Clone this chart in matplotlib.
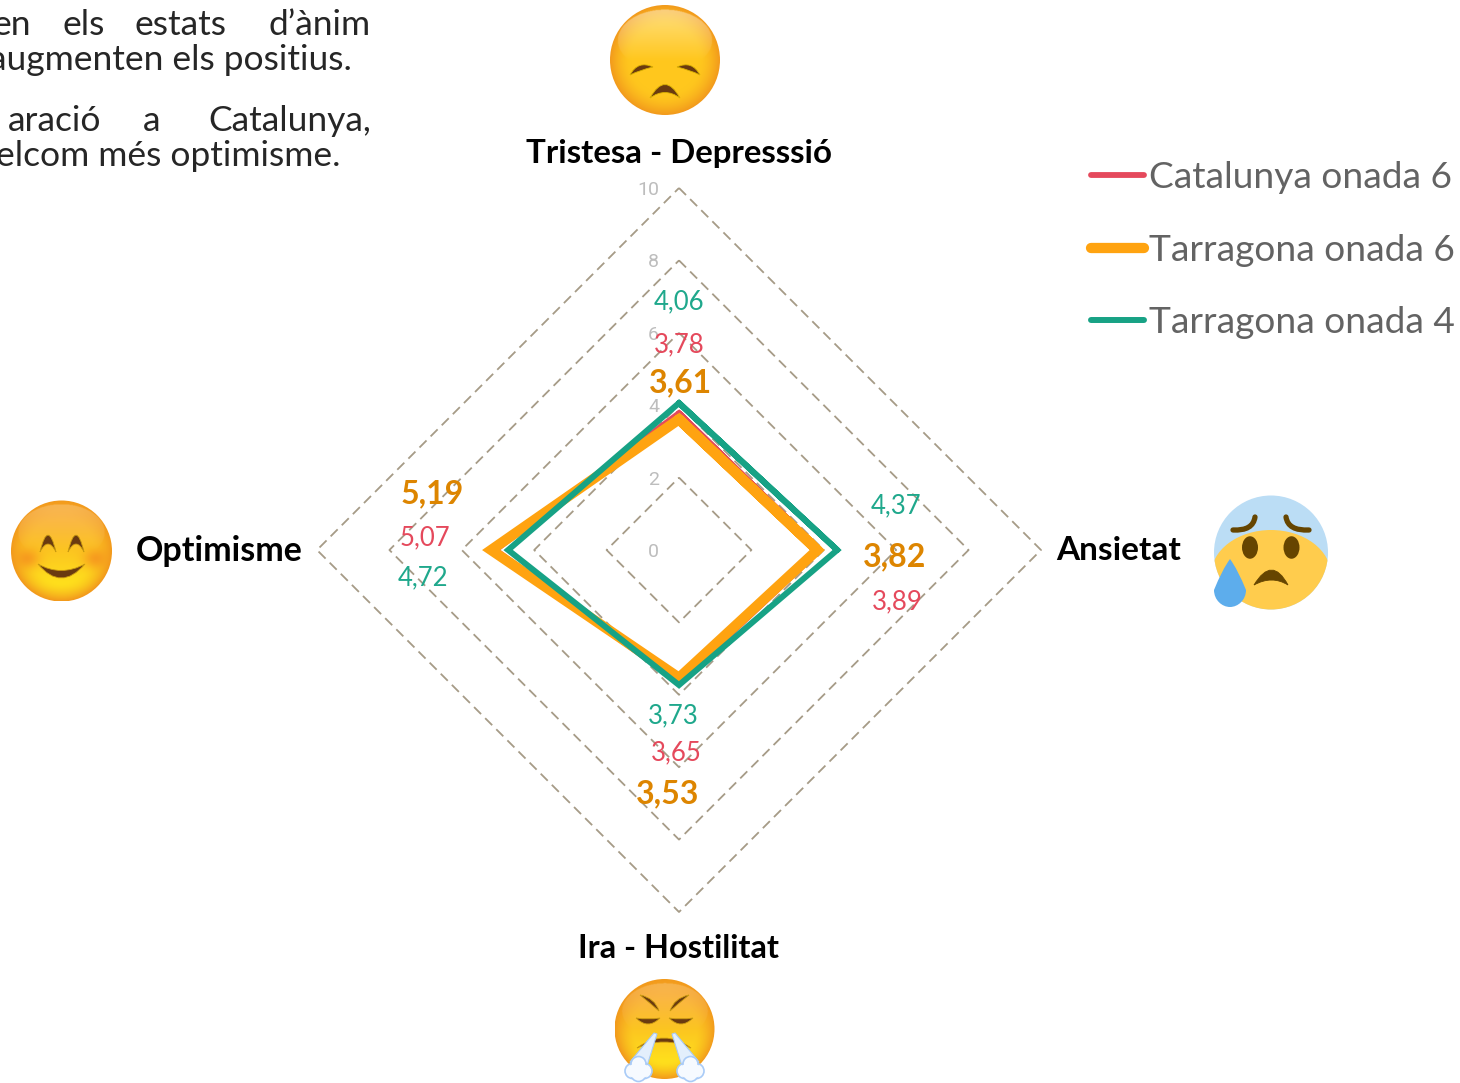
import numpy as np
import matplotlib
matplotlib.use('Agg')
import matplotlib.pyplot as plt
from matplotlib.patches import Circle, Ellipse, PathPatch, Polygon
from matplotlib.path import Path

W, H = 1460, 1083
FONT = 'Lato'

# Data
categories = ['Tristesa - Depresssió', 'Ansietat', 'Ira - Hostilitat', 'Optimisme']
catalunya_6 = [3.78, 3.89, 3.65, 5.07]
tarragona_6 = [3.61, 3.82, 3.53, 5.19]
tarragona_4 = [4.06, 4.37, 3.73, 4.72]
rings = [0, 2, 4, 6, 8, 10]

RED, ORANGE, TEAL = '#E5495C', '#FFA310', '#17A285'
RED_TXT, ORANGE_TXT, TEAL_TXT = '#E5495C', '#DD8500', '#1FA88C'
DASH = '#A69B87'

# Label centres in pixels, one per category
pos_cat = [(679, 345), (897, 602), (676, 753), (425, 538)]
pos_t6 = [(680, 383), (895, 557), (668, 794), (432, 494)]
pos_t4 = [(679, 302), (896, 506), (673, 716), (423, 578)]

fig = plt.figure(figsize=(W / 100, H / 100), dpi=100, facecolor='white')

# Radar, centre (679, 550), 362 px for 10 units
ax = fig.add_axes([(679 - 362) / W, (H - 912) / H, 724 / W, 724 / H], projection='polar')
ax.set_theta_zero_location('N')
ax.set_theta_direction(-1)
ax.set_ylim(0, 10)
ax.axis('off')

angles = np.deg2rad([0, 90, 180, 270])
ring_t = list(angles) + list(angles[:1])
wrap_t = list(angles) + list(angles[:2])

for r in rings:
    ax.plot(ring_t, [r] * 5, color=DASH, lw=1.3, ls=(0, (5.5, 3.2)), clip_on=False)
    ax.annotate(str(r), (0, r), xytext=(-20, -2), textcoords='offset pixels', ha='right',
                va='center', fontsize=14, color='#BDBDBD', family='Roboto', annotation_clip=False)


def radar_line(values, color, lw, label):
    # one segment drawn twice so the first corner gets a mitre as well
    vals = list(values) + list(values[:2])
    line, = ax.plot(wrap_t, vals, color=color, lw=lw, label=label, clip_on=False,
                    solid_joinstyle='miter', solid_capstyle='round')
    return line


h1 = radar_line(catalunya_6, RED, 4.2, 'Catalunya onada 6')
h2 = radar_line(tarragona_6, ORANGE, 7.4, 'Tarragona onada 6')
h3 = radar_line(tarragona_4, TEAL, 4.3, 'Tarragona onada 4')

leg = fig.legend(handles=[h1, h2, h3], loc='upper left', bbox_to_anchor=(1091 / W, 1 - 161 / H),
                 frameon=False, labelspacing=1.07, handlelength=1.44,
                 handletextpad=0.12, borderpad=0, borderaxespad=0,
                 prop={'family': FONT, 'size': 26.7})
for t in leg.get_texts():
    t.set_color('#636363')

# Overlay in image pixels for text and emoji
ov = fig.add_axes([0, 0, 1, 1], facecolor='none')
ov.set_axis_off()


def lab(x, y, s, size, color='black', weight='normal', ha='center'):
    ov.text(x, y, s, fontsize=size, color=color, fontweight=weight, ha=ha, va='center',
            family=FONT, clip_on=True)


def fmt(v):
    return f'{v:.2f}'.replace('.', ',')


for i in range(4):
    lab(*pos_t4[i], fmt(tarragona_4[i]), 18.5, TEAL_TXT)
    lab(*pos_cat[i], fmt(catalunya_6[i]), 18.5, RED_TXT)
    lab(*pos_t6[i], fmt(tarragona_6[i]), 23, ORANGE_TXT, 'bold')

lab(679, 153, categories[0], 23.8, weight='bold')
lab(1119, 551, categories[1], 24, weight='bold')
lab(679, 948, categories[2], 23.4, weight='bold')
lab(219, 551, categories[3], 24.5, weight='bold')

# Cropped paragraph, justified word by word
TXT = '#262626'
lab(31, 25, 'en', 25.5, TXT, ha='right')
lab(105, 25, 'els', 25.5, TXT, ha='right')
lab(227, 25, 'estats', 25.5, TXT, ha='right')
lab(371, 25, 'd’ànim', 25.5, TXT, ha='right')
lab(352, 60, 'augmenten els positius.', 25.5, TXT, ha='right')
lab(101, 121, 'aració', 25.5, TXT, ha='right')
lab(160, 121, 'a', 25.5, TXT, ha='right')
lab(371, 121, 'Catalunya,', 25.5, TXT, ha='right')
lab(340, 156, 'elcom més optimisme.', 25.5, TXT, ha='right')


def rgb(c):
    return np.array(matplotlib.colors.to_rgb(c))


def face(cx, cy, r, centre, edge, top=None, bottom=None, highlight=0.0, cheeks=None):
    n = int(2 * r) * 2
    yy, xx = np.mgrid[-1:1:n * 1j, -1:1:n * 1j]
    d = np.hypot(xx, yy)
    t = np.clip((d - 0.62) / 0.38, 0, 1)[..., None] ** 1.6
    base = np.ones((n, n, 3)) * rgb(centre)
    if top is not None:
        v = np.clip((yy + 0.7) / 1.4, 0, 1)[..., None]
        base = rgb(top) * (1 - v) + rgb(bottom) * v
    img = base * (1 - t) + rgb(edge) * t
    if cheeks is not None:
        for sx in (-0.68, 0.68):
            g = np.exp(-(((xx - sx) / 0.24) ** 2 + ((yy - 0.16) / 0.2) ** 2))[..., None] * 0.75
            img = img * (1 - g) + rgb(cheeks) * g
    if highlight > 0:
        e = ((xx / 0.86) ** 2 + ((yy + 0.36) / 0.56) ** 2) < 1
        g = (np.clip(-yy / 0.9, 0, 1) * e)[..., None] * highlight
        img = img * (1 - g) + g
    im = ov.imshow(img, extent=(cx - r, cx + r, cy + r, cy - r), origin='upper', aspect='auto',
                   interpolation='bilinear', zorder=3)
    clip = Circle((cx, cy), r, transform=ov.transData)
    im.set_clip_path(clip)


def crescent(p0, c1, p1, c2, color, edge=None, lw=0.6):
    verts = [p0, c1, p1, c2, p0]
    codes = [Path.MOVETO, Path.CURVE3, Path.CURVE3, Path.CURVE3, Path.CURVE3]
    ov.add_patch(PathPatch(Path(verts, codes), fc=color, ec=edge or color, lw=lw, zorder=4))


def stroke(p0, c, p1, color, lw):
    ov.add_patch(PathPatch(Path([p0, c, p1], [Path.MOVETO, Path.CURVE3, Path.CURVE3]), fc='none',
                           ec=color, lw=lw, capstyle='round', zorder=4))


BROWN = '#6A3A10'

# sad face
face(665, 60, 55, '#FFC71E', '#F29A1C', highlight=0.42)
crescent((630, 75), (638, 60), (653, 67), (640, 70), BROWN, '#D9B000')
crescent((700, 75), (692, 60), (677, 67), (690, 70), BROWN, '#D9B000')
crescent((650, 98), (665, 71), (680, 98), (665, 87), BROWN, '#D9B000')

# anxious face
clip_c = Circle((1271, 552.5), 57, fc='#BBDDF5', ec='none', zorder=3)
ov.add_patch(clip_c)
yellow = Ellipse((1271, 575), 120, 90, fc='#FFCC4D', ec='none', zorder=3.1)
ov.add_patch(yellow)
yellow.set_clip_path(clip_c)
ov.add_patch(Ellipse((1250, 547.5), 16, 22.5, fc='#664500', zorder=4))
ov.add_patch(Ellipse((1291.5, 547.5), 16, 22.5, fc='#664500', zorder=4))
stroke((1233, 530), (1253, 531), (1255, 517), '#664500', 3.8)
stroke((1309, 530), (1288, 531), (1286, 517), '#664500', 3.8)
crescent((1254, 585), (1272, 555), (1288, 585), (1272, 575), '#664500')
drop = Path([(1230, 559), (1238, 570), (1246, 590), (1246, 600), (1238, 607), (1230, 607),
             (1222, 607), (1214, 600), (1214, 590), (1222, 570), (1230, 559)],
            [Path.MOVETO, Path.CURVE3, Path.CURVE3, Path.CURVE4, Path.CURVE4, Path.CURVE4,
             Path.CURVE4, Path.CURVE4, Path.CURVE4, Path.CURVE3, Path.CURVE3])
ov.add_patch(PathPatch(drop, fc='#5DADEC', ec='none', zorder=4))

# smiling face
face(61.5, 551, 50.5, '#FFC81E', '#F29A1C', top='#F9A825', bottom='#FFE21C', highlight=0.22,
     cheeks='#F58E1E')
crescent((40, 552), (48, 518), (56, 552), (48, 536), BROWN, '#C99A10')
crescent((68, 552), (76, 518), (84, 552), (76, 536), BROWN, '#C99A10')
crescent((38, 564), (61, 592), (85, 564), (61, 577), BROWN, '#C99A10')

# angry face
face(664.5, 1029, 50, '#FFC81E', '#F29A1C', top='#F9A825', bottom='#FFE21C', highlight=0.2)
crescent((640, 995), (655, 998), (659, 1011), (650, 1003), BROWN, '#C99A10')
crescent((689, 995), (674, 998), (670, 1011), (679, 1003), BROWN, '#C99A10')
crescent((636, 1018), (648, 1030), (660, 1018), (648, 1020), BROWN, '#C99A10')
crescent((669, 1018), (681, 1030), (693, 1018), (681, 1020), BROWN, '#C99A10')
crescent((637, 1048), (664, 1028), (691, 1048), (664, 1036), BROWN, '#C99A10')
ov.add_patch(Polygon([(654, 1033), (657, 1034), (647, 1066), (630, 1062)], fc='#E3EFFC',
                     ec='#A9CBF7', lw=0.8, zorder=4.5))
ov.add_patch(Polygon([(675, 1033), (672, 1034), (682, 1066), (699, 1062)], fc='#E3EFFC',
                     ec='#A9CBF7', lw=0.8, zorder=4.5))
for sx in (638.5, 690.5):
    for dx, dy, rr in [(-6, 2, 7.5), (6, 2, 7.5), (0, -5, 7.5), (0, 5, 7.5)]:
        ov.add_patch(Circle((sx + dx, 1069 + dy), rr, fc='#F6FAFF', ec='#A9CBF7', lw=1.2, zorder=5))
    for dx, dy, rr in [(-5, 2, 6.5), (5, 2, 6.5), (0, -4, 6.5), (0, 4, 6.5)]:
        ov.add_patch(Circle((sx + dx, 1069 + dy), rr, fc='#F6FAFF', ec='none', zorder=5.1))

ov.set_xlim(0, W)
ov.set_ylim(H, 0)

plt.savefig('out.png', dpi=100)
